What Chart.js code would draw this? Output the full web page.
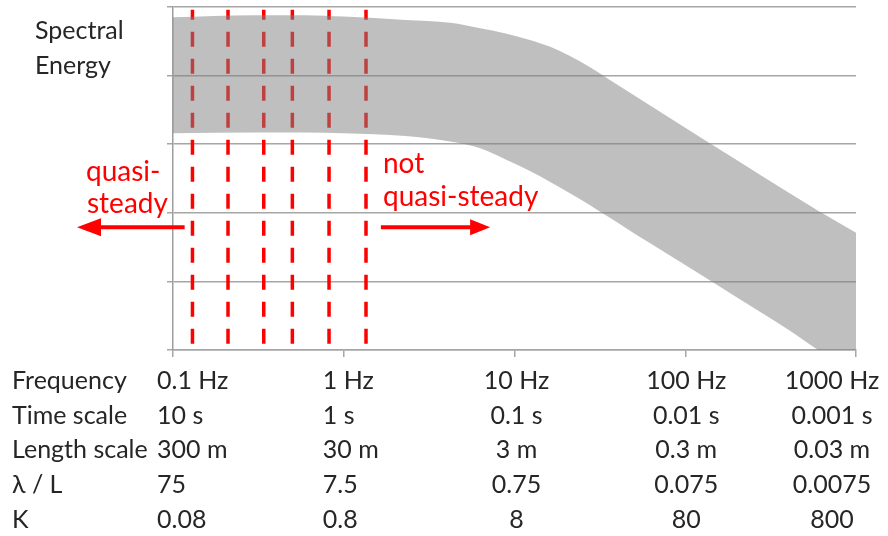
<!DOCTYPE html>
<html>
<head>
<meta charset="utf-8">
<script src="https://cdn.jsdelivr.net/npm/chart.js@4.4.1/dist/chart.umd.min.js"></script>
<style>
  html, body { margin: 0; padding: 0; background: #ffffff; }
  #wrap { width: 888px; height: 536px; position: relative; }
</style>
</head>
<body>
<div id="wrap"><canvas id="c" width="888" height="536"></canvas></div>
<script>
// Spectral energy band over frequency (log axis), upper and lower envelopes
const freq        = [0.1, 0.3, 0.6, 1, 2.3, 4.2, 6.3, 9, 12.3, 16.2, 21, 27.7, 36, 47.5, 60, 100, 200, 400, 600, 1000];
const upperEnergy = [4.85, 4.88, 4.88, 4.86, 4.81, 4.77, 4.69, 4.61, 4.52, 4.42, 4.29, 4.12, 3.94, 3.75, 3.59, 3.24, 2.77, 2.30, 2.03, 1.71];
const lowerEnergy = [3.16, 3.17, 3.17, 3.16, 3.12, 3.04, 2.94, 2.77, 2.61, 2.45, 2.29, 2.11, 1.93, 1.74, 1.58, 1.24, 0.77, 0.30, 0.00, -0.36];

// Frequencies marked by the dashed red lines, and their vertical extent
const markerFreqs = [0.13, 0.21, 0.34, 0.5, 0.82, 1.35];
const markerSpan  = [0.07, 4.96];

// Decade ticks and the rows of the table beneath the axis
const decadeTicks  = [0.1, 1, 10, 100, 1000];
const rowLabels    = ['Frequency', 'Time scale', 'Length scale', 'λ / L', 'K'];
const freqLabels   = ['0.1 Hz', '1 Hz', '10 Hz', '100 Hz', '1000 Hz'];
const timeLabels   = ['10 s', '1 s', '0.1 s', '0.01 s', '0.001 s'];
const lengthLabels = ['300 m', '30 m', '3 m', '0.3 m', '0.03 m'];
const ratioLabels  = ['75', '7.5', '0.75', '0.075', '0.0075'];
const kLabels      = ['0.08', '0.8', '8', '80', '800'];

const GRID = '#a6a6a6';
const RED = '#ff0000';
const INK = '#262626';

const datasets = [
  {
    label: 'lower',
    data: freq.map((f, i) => ({ x: f, y: lowerEnergy[i] })),
    borderWidth: 0,
    pointRadius: 0,
    fill: false,
    cubicInterpolationMode: 'monotone'
  },
  {
    label: 'upper',
    data: freq.map((f, i) => ({ x: f, y: upperEnergy[i] })),
    borderWidth: 0,
    pointRadius: 0,
    fill: '-1',
    backgroundColor: 'rgba(128,128,128,0.5)',
    cubicInterpolationMode: 'monotone'
  }
];
markerFreqs.forEach(f => {
  datasets.push({
    label: 'marker ' + f,
    data: [{ x: f, y: markerSpan[1] }, { x: f, y: markerSpan[0] }],
    borderColor: RED,
    borderWidth: 3.5,
    borderDash: [15, 12],
    borderDashOffset: 5,
    pointRadius: 0,
    fill: false
  });
});

function arrow(ctx, x0, x1, yy, headLen, headHalf) {
  const dir = Math.sign(x1 - x0);
  ctx.beginPath();
  ctx.moveTo(x0, yy);
  ctx.lineTo(x1 - dir * headLen * 0.8, yy);
  ctx.stroke();
  ctx.beginPath();
  ctx.moveTo(x1, yy);
  ctx.lineTo(x1 - dir * headLen, yy - headHalf);
  ctx.lineTo(x1 - dir * headLen, yy + headHalf);
  ctx.closePath();
  ctx.fill();
}

const annotate = {
  id: 'annotate',
  afterDraw(chart) {
    const { ctx, scales: { x, y } } = chart;
    ctx.save();

    // axis caption
    ctx.fillStyle = INK;
    ctx.font = '25px Lato';
    ctx.textBaseline = 'alphabetic';
    ctx.textAlign = 'left';
    ctx.fillText('Spectral', 35, 39);
    ctx.fillText('Energy', 35, 74);

    // table of equivalent scales under each decade
    const rows = [freqLabels, timeLabels, lengthLabels, ratioLabels, kLabels];
    const baselines = [389, 423.5, 458, 493, 527.5];
    const colAnchor = [['left', -16], ['left', -21], ['center', 2], ['center', 1], ['center', -24]];
    rows.forEach((vals, r) => {
      ctx.textAlign = 'left';
      ctx.fillText(rowLabels[r], 12, baselines[r]);
      vals.forEach((v, c) => {
        const px = x.getPixelForValue(decadeTicks[c]);
        ctx.textAlign = colAnchor[c][0];
        ctx.fillText(v, px + colAnchor[c][1], baselines[r]);
      });
    });

    // regime annotations
    ctx.fillStyle = RED;
    ctx.strokeStyle = RED;
    ctx.font = '28px Lato';
    ctx.textAlign = 'left';
    ctx.fillText('quasi-', 86, 181);
    ctx.fillText('steady', 87, 213);
    ctx.fillText('not', 383, 173);
    ctx.fillText('quasi-steady', 383, 206);

    ctx.lineWidth = 4;
    const ay = y.getPixelForValue(1.79);
    arrow(ctx, x.getPixelForValue(0.117), x.getPixelForValue(0.0274), ay, 24, 9);
    arrow(ctx, x.getPixelForValue(1.65), x.getPixelForValue(7.2), ay, 20, 8);

    ctx.restore();
  }
};

new Chart(document.getElementById('c'), {
  type: 'line',
  data: { datasets },
  options: {
    responsive: false,
    animation: false,
    events: [],
    layout: { padding: { left: 167, right: 32, top: 7, bottom: 179 } },
    plugins: { legend: { display: false }, tooltip: { enabled: false } },
    scales: {
      x: {
        type: 'logarithmic',
        min: 0.1,
        max: 1000,
        afterBuildTicks: s => { s.ticks = decadeTicks.map(v => ({ value: v })); },
        ticks: { display: false },
        grid: { drawOnChartArea: false, drawTicks: true, tickLength: 7, color: GRID, lineWidth: 1.5 },
        border: { display: true, color: GRID, width: 1.5 }
      },
      y: {
        min: 0,
        max: 5,
        ticks: { display: false, stepSize: 1 },
        grid: { color: GRID, lineWidth: 1.5, drawTicks: true, tickLength: 6 },
        border: { display: true, color: '#9d9d9d', width: 1.5 }
      }
    }
  },
  plugins: [annotate]
});
</script>
</body>
</html>
